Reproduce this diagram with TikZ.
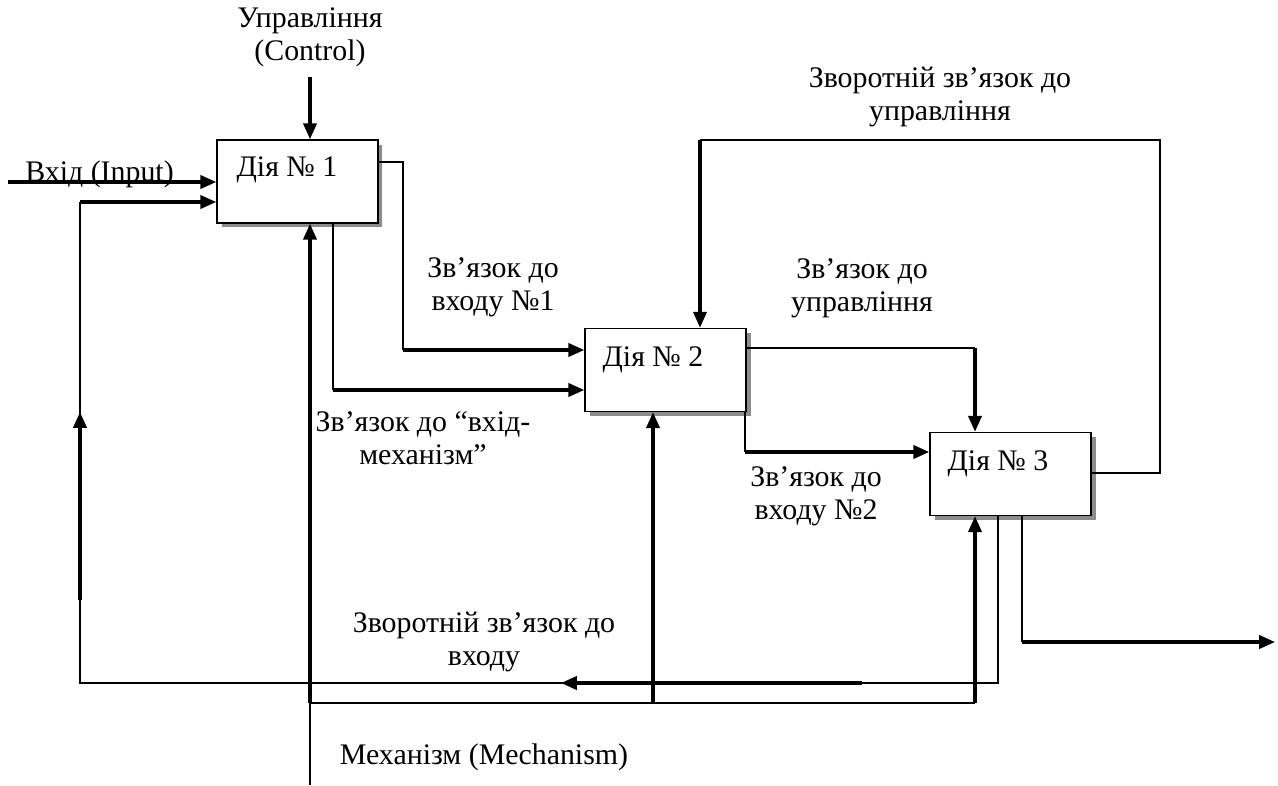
\documentclass[tikz,border=0pt]{standalone}
\usepackage{fontspec}
\setmainfont{Liberation Serif}
\usetikzlibrary{arrows.meta,calc}
\begin{document}
\begin{tikzpicture}[x={(0.02cm,0)},y={(0,-0.02cm)},
  every node/.style={font=\fontsize{17}{18.8}\selectfont, inner sep=0pt},
  box/.style={draw, line width=0.9pt, fill=white, minimum width=3.22cm, minimum height=1.66cm},
  shade/.style={fill=black!45, draw=none, minimum width=3.22cm, minimum height=1.66cm},
  thn/.style={line width=0.7pt},
  thk/.style={line width=1.8pt},
  arr/.style={thk, -{Triangle[length=9pt,width=7.5pt]}},
  lbl/.style={align=center}]
\useasboundingbox (0,0) rectangle (1278,785);
% shadows
\node[shade] (s1) at (302,186) {};
\node[shade] (s2) at (670.5,374.5) {};
\node[shade] (s3) at (1015.5,478.5) {};
% boxes
\node[box] (b1) at (297.5,181.5) {};
\node[box] (b2) at (665.5,370) {};
\node[box] (b3) at (1010.5,474) {};
\node[anchor=west] (t1) at ($(b1.north west)+(20,31)$) {Дія № 1};
\node[anchor=west] (t2) at ($(b2.north west)+(18,32)$) {Дія № 2};
\node[anchor=west] (t3) at ($(b3.north west)+(18,32)$) {Дія № 3};
% coordinates
\coordinate (ctl) at (310,77);
\coordinate (inp) at (8,182);
\coordinate (fbA) at (998,683);
\coordinate (fbB) at (80,683);
\coordinate (fbC) at (80,202);
\coordinate (fbT1) at (862,683);
\coordinate (fbT2) at (561,683);
\coordinate (fbV1) at (80,600);
\coordinate (fbV2) at (80,412);
\coordinate (mBot) at (310,785);
\coordinate (mJ) at (310,703);
\coordinate (mM) at (653,703);
\coordinate (mR) at (975,703);
\coordinate (c1a) at (403,162);
\coordinate (c1b) at (403,350);
\coordinate (c2a) at (333,390);
\coordinate (c3a) at (975,348);
\coordinate (c4a) at (745,452);
\coordinate (c5a) at (1160,473);
\coordinate (c5b) at (1160,140);
\coordinate (c5c) at (700,140);
\coordinate (c6a) at (1022,642);
\coordinate (out) at (1275,642);
% control
\draw[arr] (ctl) -- (ctl |- b1.north);
% input
\draw[arr] (inp) -- (inp -| b1.west);
% feedback to input
\draw[thn] (fbA |- b3.south) -- (fbA) -- (fbB) -- (fbC);
\draw[arr] (fbC) -- (fbC -| b1.west);
\draw[arr] (fbT1) -- (fbT2);
\draw[arr] (fbV1) -- (fbV2);
% mechanism
\draw[thn] (mBot) -- (mJ) -- (mR);
\draw[arr] (mJ) -- (mJ |- b1.south);
\draw[arr] (mM) -- (mM |- b2.south);
\draw[arr] (mR) -- (mR |- b3.south);
% box1 -> box2
\draw[thn] (c1a -| b1.east) -- (c1a) -- (c1b);
\draw[arr] (c1b) -- (c1b -| b2.west);
\draw[thn] (c2a |- b1.south) -- (c2a);
\draw[arr] (c2a) -- (c2a -| b2.west);
% box2 -> box3
\draw[thn] (c3a -| b2.east) -- (c3a);
\draw[arr] (c3a) -- (c3a |- b3.north);
\draw[thn] (c4a |- b2.south) -- (c4a);
\draw[arr] (c4a) -- (c4a -| b3.west);
% feedback to control
\draw[thn] (c5a -| b3.east) -- (c5a) -- (c5b) -- (c5c);
\draw[arr] (c5c) -- (c5c |- b2.north);
% output
\draw[thn] (c6a |- b3.south) -- (c6a);
\draw[arr] (c6a) -- (out);
% labels
\node[lbl] (lctl) at (310,37) {Управління\\(Control)};
\node[anchor=west] (linp) at (25,174) {Вхід (Input)};
\node[lbl] (l1) at (493,287) {Зв’язок до\\входу №1};
\node[lbl] (l2) at (423,438) {Зв’язок до “вхід-\\механізм”};
\node[lbl] (l3) at (862,288) {Зв’язок до\\управління};
\node[lbl] (l4) at (940,97) {Зворотній зв’язок до\\управління};
\node[lbl] (l5) at (816,496) {Зв’язок до\\входу №2};
\node[lbl] (l6) at (484,642) {Зворотній зв’язок до\\входу};
\node (lmech) at (484,757) {Механізм (Mechanism)};
\end{tikzpicture}
\end{document}
